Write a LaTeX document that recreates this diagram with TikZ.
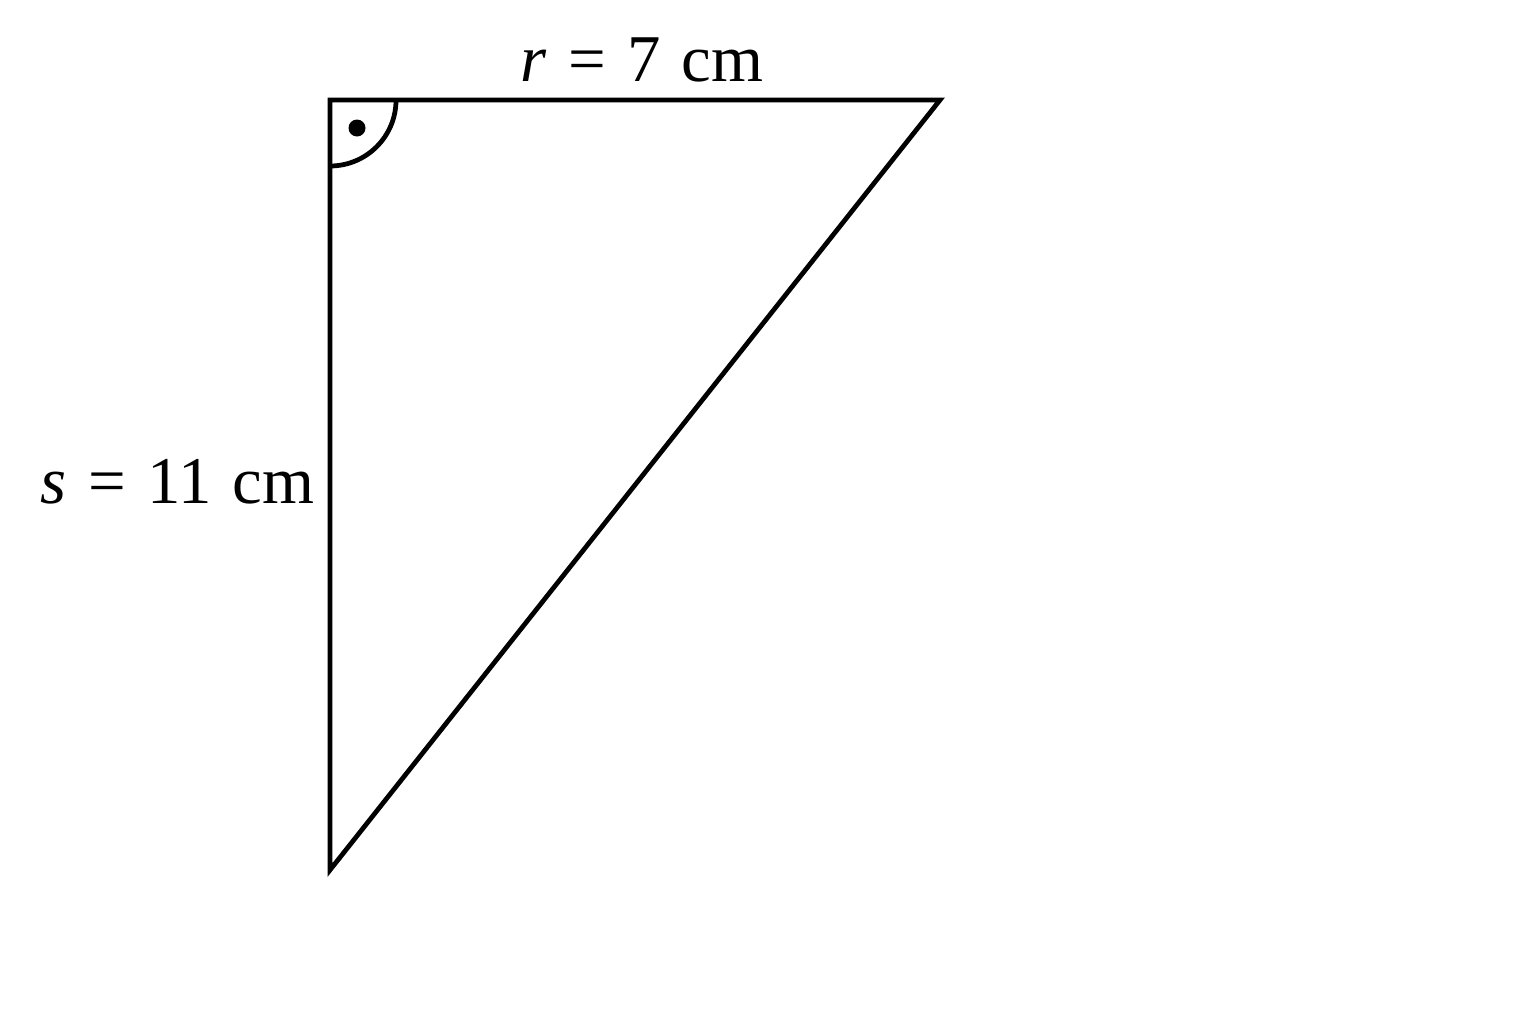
\documentclass[tikz,border=0pt]{standalone}
\usepackage{fontspec}
\setmainfont{Liberation Serif}
\newcommand{\eqgap}{\hspace{0.32em}}
\begin{document}
\begin{tikzpicture}[x=0.01cm, y=-0.01cm, line width=1.35pt, line join=miter,
  lbl/.style={font=\fontsize{19}{23}\selectfont, inner sep=0pt}]
\useasboundingbox (0,0) rectangle (1536,1024);

\coordinate (A) at (330, 100);
\coordinate (B) at (940, 100);
\coordinate (C) at (330, 870);

\draw (A) -- (B) -- (C) -- cycle;

\draw ([xshift=0.66cm]A) arc[start angle=0, end angle=90, radius=66];
\fill (357, 128) circle[radius=8.5];

\node[lbl, anchor=base] (r) at (642, 81) {\textit{r}\eqgap=\eqgap7\eqgap cm};
\node[lbl, anchor=base east] (s) at (317, 503) {\textit{s}\eqgap=\eqgap11\eqgap cm};

\end{tikzpicture}
\end{document}
